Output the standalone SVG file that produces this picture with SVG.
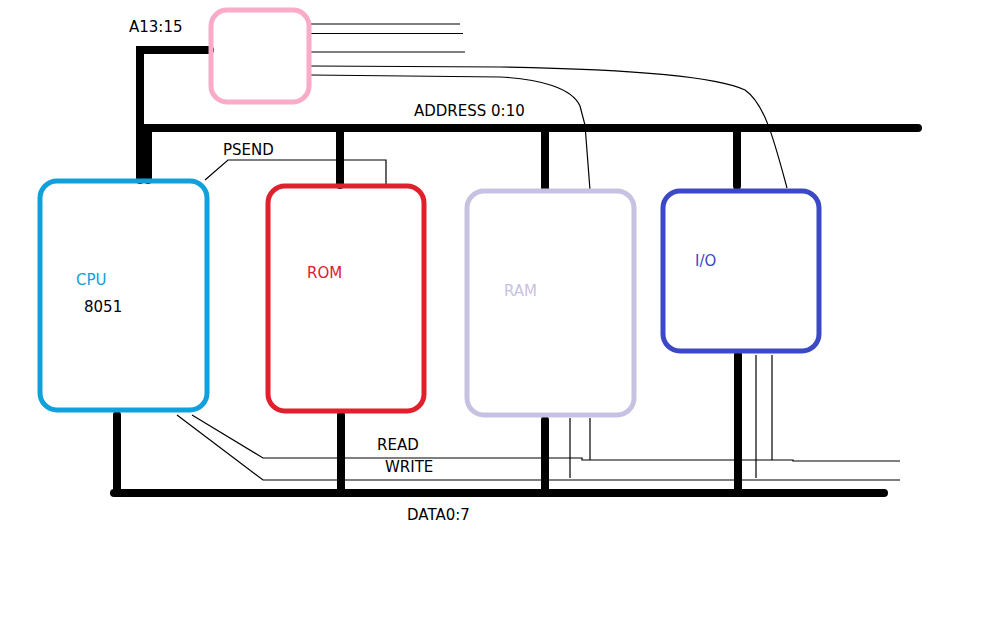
<svg xmlns="http://www.w3.org/2000/svg" width="1008" height="630" viewBox="0 0 1008 630">
<style>
.box{fill:none;stroke-width:5}
.bus{stroke:#000;stroke-width:8;stroke-linecap:round;fill:none}
.wire{stroke:#000;stroke-width:1.2;fill:none}
text{font-family:"DejaVu Sans",sans-serif;font-size:15px;fill:#000}
</style>
<rect width="1008" height="630" fill="#fff"/>
<g id="connectors">
<path class="bus" d="M210,50 H140 V180"/>
<path class="bus" d="M148,128 V180"/>
<path class="bus" d="M144,128 H918"/>
<path class="bus" d="M340,132 V185"/>
<path class="bus" d="M545,132 V188"/>
<path class="bus" d="M737,132 V186"/>
<path class="bus" d="M117,415 V493"/>
<path class="bus" d="M114,493 H884"/>
<path class="bus" d="M341,415 V493"/>
<path class="bus" d="M545,420 V493"/>
<path class="bus" d="M738,355 V493"/>
<path class="wire" d="M311,24 H460"/>
<path class="wire" d="M311,33.5 H463"/>
<path class="wire" d="M311,52 H465"/>
<path class="wire" d="M311,66 L500,67 C620,69 715,76 745,90 C765,104 774,140 787,188"/>
<path class="wire" d="M311,75 L500,77 C540,79 572,88 580,106 L585,125 L590,190"/>
<path class="wire" d="M205,180 L228,160 H386 V185"/>
<path class="wire" d="M192,415 L263,458 H582 L582,460 H793 V461 H900"/>
<path class="wire" d="M177,415 L263,480 H900"/>
<path class="wire" d="M570,418 V478"/>
<path class="wire" d="M590,418 V460"/>
<path class="wire" d="M756,355 V478"/>
<path class="wire" d="M772,355 V460"/>
</g>
<g id="decoder"><rect class="box" x="211" y="10" width="98" height="92" rx="16" stroke="#F9ABC8"/></g>
<g id="cpu"><rect class="box" x="40" y="181" width="167" height="229" rx="17" stroke="#10A0DC"/>
<text x="76" y="285" style="fill:#10A0DC">CPU</text><text x="84" y="312">8051</text></g>
<g id="rom"><rect class="box" x="268" y="186" width="156" height="225" rx="17" stroke="#E0202C"/>
<text x="307" y="278" style="fill:#E0202C">ROM</text></g>
<g id="ram"><rect class="box" x="467" y="191" width="167" height="224" rx="17" stroke="#C8C2E2"/>
<text x="504" y="296" style="fill:#C8C2E2">RAM</text></g>
<g id="io"><rect class="box" x="663" y="191" width="156" height="160" rx="17" stroke="#3C48C4"/>
<text x="695" y="266" style="fill:#3C48C4">I/O</text></g>
<g id="labels">
<text x="129" y="32">A13:15</text>
<text x="414" y="116">ADDRESS 0:10</text>
<text x="223" y="155">PSEND</text>
<text x="377" y="450">READ</text>
<text x="385" y="472">WRITE</text>
<text x="407" y="520">DATA0:7</text>
</g>
</svg>
